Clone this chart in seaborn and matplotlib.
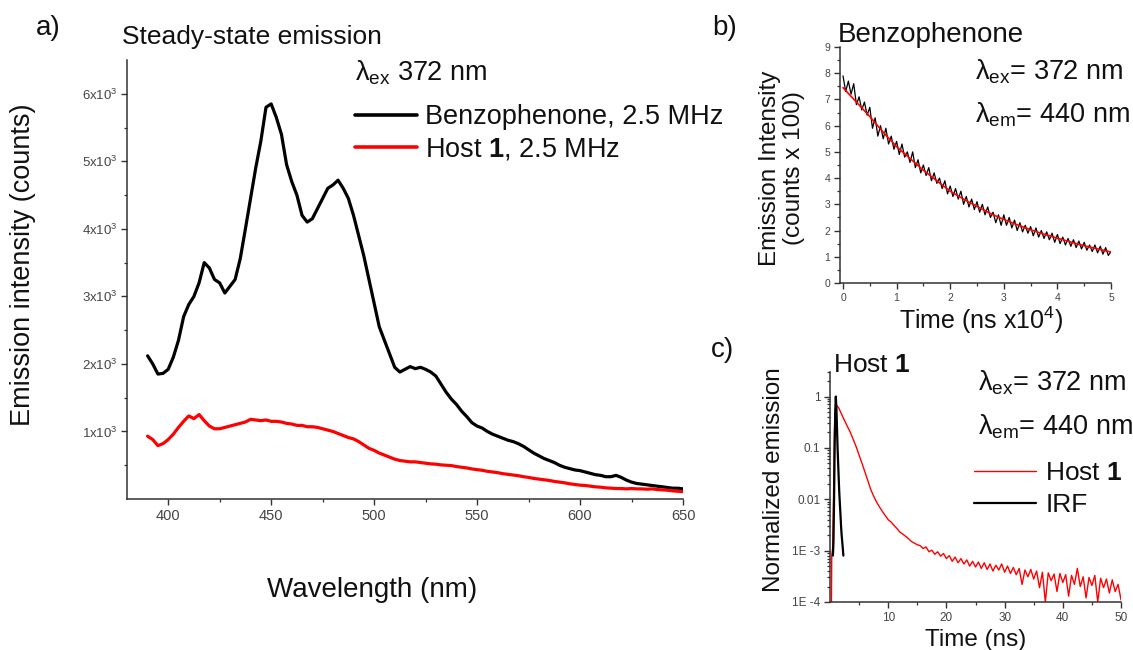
import numpy as np
import pandas as pd
import matplotlib
matplotlib.use("Agg")
import matplotlib.pyplot as plt
import seaborn as sns
from matplotlib.ticker import FixedLocator, MultipleLocator, NullFormatter, FixedFormatter, LogLocator

# ---------------- data: panel a (steady-state emission) ----------------
wavelength_nm = [390, 392.5, 395, 397.5, 400, 402.5, 405, 407.5, 410, 412.5, 415, 417.5, 420, 422.5, 425,
                 427.5, 430, 432.5, 435, 437.5, 440, 442.5, 445, 447.5, 450, 452.5, 455, 457.5, 460, 462.5,
                 465, 467.5, 470, 472.5, 475, 477.5, 480, 482.5, 485, 487.5, 490, 492.5, 495, 497.5, 500,
                 502.5, 505, 507.5, 510, 512.5, 515, 517.5, 520, 522.5, 525, 527.5, 530, 532.5, 535, 537.5,
                 540, 542.5, 545, 547.5, 550, 552.5, 555, 557.5, 560, 562.5, 565, 567.5, 570, 572.5, 575,
                 577.5, 580, 582.5, 585, 587.5, 590, 592.5, 595, 597.5, 600, 602.5, 605, 607.5, 610, 612.5,
                 615, 617.5, 620, 622.5, 625, 627.5, 630, 632.5, 635, 637.5, 640, 642.5, 645, 647.5, 650]
benzophenone_counts = [2120, 2000, 1850, 1860, 1920, 2100, 2350, 2700, 2880, 3000, 3200, 3500, 3420, 3250, 3200,
                       3050, 3150, 3250, 3560, 4000, 4450, 4900, 5300, 5800, 5850, 5650, 5400, 4950, 4700, 4500,
                       4200, 4100, 4150, 4300, 4450, 4600, 4650, 4720, 4600, 4450, 4200, 3900, 3600, 3250, 2900,
                       2550, 2350, 2150, 1950, 1880, 1920, 1960, 1930, 1950, 1920, 1880, 1820, 1700, 1580, 1480,
                       1400, 1300, 1220, 1130, 1080, 1050, 1000, 960, 930, 900, 870, 850, 820, 780, 730,
                       680, 640, 600, 570, 540, 500, 470, 450, 430, 420, 400, 380, 360, 350, 330,
                       330, 350, 320, 280, 250, 230, 220, 210, 200, 190, 180, 170, 160, 160, 150]
host1_counts = [930, 880, 790, 820, 880, 960, 1060, 1150, 1230, 1190, 1250, 1160, 1080, 1040, 1040,
                1060, 1080, 1100, 1120, 1140, 1180, 1170, 1160, 1170, 1150, 1150, 1140, 1120, 1110, 1090,
                1090, 1070, 1070, 1060, 1040, 1020, 1000, 970, 940, 910, 890, 850, 800, 750, 720,
                680, 650, 620, 590, 570, 560, 550, 550, 540, 530, 520, 515, 505, 500, 495,
                480, 470, 460, 445, 435, 425, 410, 400, 390, 375, 365, 355, 345, 330, 320,
                305, 295, 285, 275, 260, 250, 240, 225, 215, 205, 200, 190, 180, 175, 165,
                160, 155, 155, 150, 155, 150, 150, 145, 150, 140, 135, 130, 120, 115, 110]

# ---------------- data: panel b (benzophenone decay) ----------------
time_b_data = [0.00, 0.05, 0.10, 0.15, 0.20, 0.25, 0.30, 0.35, 0.40, 0.45, 0.50, 0.55, 0.60, 0.65, 0.70,
               0.75, 0.80, 0.85, 0.90, 0.95, 1.00, 1.05, 1.10, 1.15, 1.20, 1.25, 1.30, 1.35, 1.40, 1.45,
               1.50, 1.55, 1.60, 1.65, 1.70, 1.75, 1.80, 1.85, 1.90, 1.95, 2.00, 2.05, 2.10, 2.15, 2.20,
               2.25, 2.30, 2.35, 2.40, 2.45, 2.50, 2.55, 2.60, 2.65, 2.70, 2.75, 2.80, 2.85, 2.90, 2.95,
               3.00, 3.05, 3.10, 3.15, 3.20, 3.25, 3.30, 3.35, 3.40, 3.45, 3.50, 3.55, 3.60, 3.65, 3.70,
               3.75, 3.80, 3.85, 3.90, 3.95, 4.00, 4.05, 4.10, 4.15, 4.20, 4.25, 4.30, 4.35, 4.40, 4.45,
               4.50, 4.55, 4.60, 4.65, 4.70, 4.75, 4.80, 4.85, 4.90, 4.95, 5.00]
benz_decay = [7.9, 7.3, 7.7, 7.2, 7.6, 6.8, 7.1, 6.6, 6.9, 6.4, 6.7, 5.9, 6.3, 5.6, 6.0,
              5.5, 5.9, 5.3, 5.6, 5.1, 5.4, 4.9, 5.3, 4.8, 5.0, 4.6, 5.0, 4.4, 4.7, 4.2,
              4.5, 4.1, 4.4, 3.9, 4.2, 3.8, 4.0, 3.6, 3.9, 3.4, 3.7, 3.3, 3.6, 3.2, 3.5,
              3.0, 3.3, 2.9, 3.2, 2.8, 3.1, 2.7, 3.0, 2.6, 2.9, 2.5, 2.7, 2.3, 2.6, 2.2,
              2.6, 2.2, 2.5, 2.1, 2.4, 2.0, 2.3, 1.95, 2.2, 1.9, 2.15, 1.8, 2.1, 1.75, 2.0,
              1.7, 1.95, 1.65, 1.9, 1.55, 1.85, 1.5, 1.75, 1.45, 1.7, 1.4, 1.65, 1.35, 1.6, 1.3,
              1.55, 1.25, 1.45, 1.2, 1.45, 1.15, 1.4, 1.1, 1.35, 1.05, 1.2]
time_b_fit = [0.0, 0.25, 0.5, 0.75, 1.0, 1.25, 1.5, 1.75, 2.0, 2.25, 2.5, 2.75, 3.0, 3.25, 3.5,
              3.75, 4.0, 4.25, 4.5, 4.75, 5.0]
benz_fit = [7.45, 6.9, 6.35, 5.75, 5.2, 4.75, 4.3, 3.9, 3.5, 3.2, 2.92, 2.65, 2.42, 2.22, 2.03,
            1.86, 1.71, 1.56, 1.42, 1.3, 1.18]

# ---------------- data: panel c (Host 1 decay, IRF) ----------------
time_c_host = [0.25, 0.3, 0.45, 0.6, 0.75, 0.9, 1.1, 1.5, 2.0, 2.5, 3.0, 3.5, 4.0, 4.5, 5.0, 5.5, 6.0,
               6.5, 7.0, 7.5, 8.0, 8.5, 9.0, 9.5, 10.0, 10.5, 11.0, 11.5, 12.0, 12.5, 13.0, 13.5, 14.0,
               14.5, 15.0, 15.5, 16.0, 16.5, 17.0, 17.5, 18.0, 18.5, 19.0, 19.5, 20.0, 20.5, 21.0, 21.5,
               22.0, 22.5, 23.0, 23.5, 24.0, 24.5, 25.0, 25.5, 26.0, 26.5, 27.0, 27.5, 28.0, 28.5, 29.0,
               29.5, 30.0, 30.5, 31.0, 31.5, 32.0, 32.5, 33.0, 33.5, 34.0, 34.5, 35.0, 35.5, 36.0, 36.5,
               37.0, 37.5, 38.0, 38.5, 39.0, 39.5, 40.0, 40.5, 41.0, 41.5, 42.0, 42.5, 43.0, 43.5, 44.0,
               44.5, 45.0, 45.5, 46.0, 46.5, 47.0, 47.5, 48.0, 48.5, 49.0, 49.5, 50.0]
host1_norm = [1.0e-4, 8e-4, 1.1e-3, 0.01, 0.2, 0.55, 0.68, 0.6, 0.45, 0.34, 0.26, 0.2, 0.145, 0.105,
              0.072, 0.05, 0.034, 0.023, 0.0155, 0.0115, 0.0088, 0.0071, 0.0058, 0.0048, 0.0040, 0.0036,
              0.0031, 0.0027, 0.0023, 0.0021, 0.0019, 0.0017, 0.0015, 0.0014, 0.0013, 0.00125, 0.0011,
              0.00118, 0.00095, 0.00102, 0.00085, 0.00095, 0.00078, 0.00088, 0.0007, 0.0008, 0.00062,
              0.00075, 0.00058, 0.0007, 0.00055, 0.00066, 0.0005, 0.00062, 0.00048, 0.0006, 0.00045,
              0.00058, 0.00043, 0.00055, 0.0004, 0.00052, 0.00042, 0.00055, 0.00038, 0.0005, 0.00036,
              0.00047, 0.00034, 0.00045, 0.00022, 0.00042, 0.00031, 0.00043, 0.00028, 0.0004, 0.00019,
              0.00038, 0.0001, 0.00037, 0.00026, 0.00035, 0.00016, 0.00036, 0.00024, 0.00034, 0.00013,
              0.00033, 0.00022, 0.00045, 0.0002, 0.00031, 0.00012, 0.0003, 0.00021, 0.00033, 0.0001,
              0.00029, 0.00019, 0.00028, 0.00015, 0.00027, 0.00016, 0.00022, 0.00011]
time_c_irf = [0.5, 0.6, 0.7, 0.8, 0.9, 1.0, 1.1, 1.2, 1.3, 1.4, 1.5, 1.6, 1.7, 1.8, 1.9, 2.0, 2.1, 2.2, 2.3]
irf_norm = [8e-4, 1.5e-3, 0.01, 0.1, 0.5, 1.0, 0.6, 0.25, 0.1, 0.05, 0.025, 0.013, 0.008, 0.005,
            0.003, 0.002, 0.0015, 0.0011, 8e-4]

# ---------------- style ----------------
sns.set_theme(style="ticks")
plt.rcParams['font.family'] = ['Liberation Sans', 'DejaVu Sans']
plt.rcParams['mathtext.fontset'] = 'custom'
plt.rcParams['mathtext.rm'] = 'Liberation Sans'
plt.rcParams['mathtext.it'] = 'Liberation Sans:italic'
plt.rcParams['mathtext.bf'] = 'Liberation Sans:bold'
plt.rcParams['mathtext.sf'] = 'Liberation Sans'

W, H = 1133, 650
fig = plt.figure(figsize=(W / 100, H / 100), dpi=100, facecolor='white')


def ax_rect(left, right, top, bottom):
    return [left / W, 1 - bottom / H, (right - left) / W, (bottom - top) / H]


ax_a = fig.add_axes(ax_rect(127, 683, 60, 499))
ax_b = fig.add_axes(ax_rect(840, 1111, 47, 283))
ax_c = fig.add_axes(ax_rect(830, 1121, 372, 602))

SPINE = '#333333'
TICKLAB = '#444444'


def style_axes(ax, lab_size):
    sns.despine(ax=ax)
    for s in ('left', 'bottom'):
        ax.spines[s].set_color(SPINE)
        ax.spines[s].set_linewidth(1.1)
    ax.tick_params(which='major', direction='out', length=4, width=1.0, color=SPINE,
                   labelsize=lab_size, labelcolor=TICKLAB, pad=3)
    ax.tick_params(which='minor', direction='out', length=2.5, width=0.9, color=SPINE)
    ax.set_facecolor('white')


# ---------------- panel a ----------------
df_a = pd.DataFrame({'wl': wavelength_nm, 'benz': benzophenone_counts, 'host': host1_counts})
sns.lineplot(data=df_a, x='wl', y='benz', ax=ax_a, color='black', linewidth=2.3,
             label='Benzophenone, 2.5 MHz', estimator=None, sort=False)
sns.lineplot(data=df_a, x='wl', y='host', ax=ax_a, color='#ff0000', linewidth=2.3,
             label=r'Host $\mathbf{1}$, 2.5 MHz', estimator=None, sort=False)
ax_a.set_xlim(380, 650)
ax_a.set_ylim(0, 6500)
style_axes(ax_a, 10.5)
ax_a.xaxis.set_major_locator(FixedLocator([400, 450, 500, 550, 600, 650]))
ax_a.xaxis.set_minor_locator(FixedLocator([425, 475, 525, 575, 625]))
ax_a.yaxis.set_major_locator(FixedLocator([1000, 2000, 3000, 4000, 5000, 6000]))
ax_a.yaxis.set_major_formatter(FixedFormatter([r'%dx10$^3$' % k for k in range(1, 7)]))
ax_a.yaxis.set_minor_locator(FixedLocator([500, 1500, 2500, 3500, 4500, 5500]))
ax_a.tick_params(axis='y', labelsize=9.5)
ax_a.set_xlabel('Wavelength (nm)', fontsize=20, color='#111111')
ax_a.set_ylabel('Emission intensity (counts)', fontsize=19.5, color='#111111')
ax_a.xaxis.label.set_va('center')
ax_a.yaxis.label.set_va('center')
ax_a.xaxis.set_label_coords(0.44, -0.207)
ax_a.yaxis.set_label_coords(-0.187, 0.533)
leg_a = ax_a.legend(loc='upper left', bbox_to_anchor=(355 / W, 1 - 104 / H), bbox_transform=fig.transFigure,
                    frameon=False, fontsize=19.5, handlelength=2.3, handletextpad=0.28,
                    labelspacing=0.23, borderpad=0, borderaxespad=0)
for t in leg_a.get_texts():
    t.set_color('#111111')
for h in leg_a.get_lines():
    h.set_linewidth(2.6)

fig.text(355 / W, 1 - 73 / H, r'$\mathrm{\lambda}_{\mathrm{ex}}$ 372 nm', fontsize=19.5,
         ha='left', va='center', color='#111111')
fig.text(36 / W, 1 - 28 / H, 'a)', fontsize=20, ha='left', va='center', color='#111111')
fig.text(122 / W, 1 - 37 / H, 'Steady-state emission', fontsize=19, ha='left', va='center', color='#111111')

# ---------------- panel b ----------------
df_b = pd.DataFrame({'t': time_b_data, 'I': benz_decay})
df_bf = pd.DataFrame({'t': time_b_fit, 'I': benz_fit})
sns.lineplot(data=df_b, x='t', y='I', ax=ax_b, color='black', linewidth=0.9, estimator=None, sort=False)
sns.lineplot(data=df_bf, x='t', y='I', ax=ax_b, color='#ff0000', linewidth=1.2, estimator=None, sort=False)
ax_b.set_xlim(-0.056, 5.0)
ax_b.set_ylim(0, 9)
style_axes(ax_b, 7.5)
ax_b.xaxis.set_major_locator(MultipleLocator(1))
ax_b.xaxis.set_minor_locator(MultipleLocator(0.5))
ax_b.yaxis.set_major_locator(MultipleLocator(1))
ax_b.yaxis.set_minor_locator(MultipleLocator(0.5))
ax_b.set_xlabel(r'Time (ns x10$^4$)', fontsize=18, color='#111111')
ax_b.set_ylabel('Emission Intensity\n(counts x 100)', fontsize=17.5, color='#111111', linespacing=1.1)
ax_b.xaxis.label.set_va('center')
ax_b.yaxis.label.set_va('center')
ax_b.xaxis.set_label_coords(0.52, -0.16)
ax_b.yaxis.set_label_coords(-0.214, 0.487)
fig.text(712 / W, 1 - 28 / H, 'b)', fontsize=20, ha='left', va='center', color='#111111')
fig.text(838 / W, 1 - 35 / H, 'Benzophenone', fontsize=20, ha='left', va='center', color='#111111')
fig.text(975 / W, 1 - 72 / H, r'$\mathrm{\lambda}_{\mathrm{ex}}$= 372 nm', fontsize=19.5,
         ha='left', va='center', color='#111111')
fig.text(975 / W, 1 - 115 / H, r'$\mathrm{\lambda}_{\mathrm{em}}$= 440 nm', fontsize=19.5,
         ha='left', va='center', color='#111111')

# ---------------- panel c ----------------
df_c = pd.DataFrame({'t': time_c_host, 'I': host1_norm})
df_irf = pd.DataFrame({'t': time_c_irf, 'I': irf_norm})
sns.lineplot(data=df_c, x='t', y='I', ax=ax_c, color='#ff0000', linewidth=1.0,
             label=r'Host $\mathbf{1}$', estimator=None, sort=False)
sns.lineplot(data=df_irf, x='t', y='I', ax=ax_c, color='black', linewidth=1.6,
             label='IRF', estimator=None, sort=False)
ax_c.set_yscale('log')
ax_c.set_xlim(0, 50)
ax_c.set_ylim(1e-4, 3.0)
style_axes(ax_c, 8.5)
ax_c.xaxis.set_major_locator(FixedLocator([10, 20, 30, 40, 50]))
ax_c.xaxis.set_minor_locator(FixedLocator([5, 15, 25, 35, 45]))
ax_c.yaxis.set_major_locator(FixedLocator([1e-4, 1e-3, 1e-2, 1e-1, 1]))
ax_c.yaxis.set_major_formatter(FixedFormatter(['1E -4', '1E -3', '0.01', '0.1', '1']))
ax_c.yaxis.set_minor_locator(LogLocator(base=10, subs=[2, 3, 4, 5, 6, 7, 8, 9]))
ax_c.yaxis.set_minor_formatter(NullFormatter())
ax_c.tick_params(axis='y', which='minor', length=2)
ax_c.set_xlabel('Time (ns)', fontsize=17.5, color='#111111')
ax_c.set_ylabel('Normalized emission', fontsize=17.5, color='#111111')
ax_c.xaxis.label.set_va('center')
ax_c.yaxis.label.set_va('center')
ax_c.xaxis.set_label_coords(0.502, -0.165)
ax_c.yaxis.set_label_coords(-0.192, 0.53)
leg_c = ax_c.legend(loc='upper left', bbox_to_anchor=(974 / W, 1 - 461 / H), bbox_transform=fig.transFigure,
                    frameon=False, fontsize=19, handlelength=2.35, handletextpad=0.35,
                    labelspacing=0.3, borderpad=0, borderaxespad=0)
for t in leg_c.get_texts():
    t.set_color('#111111')
fig.text(711 / W, 1 - 350 / H, 'c)', fontsize=20, ha='left', va='center', color='#111111')
fig.text(833 / W, 1 - 365 / H, r'Host $\mathbf{1}$', fontsize=19, ha='left', va='center', color='#111111')
fig.text(978 / W, 1 - 383 / H, r'$\mathrm{\lambda}_{\mathrm{ex}}$= 372 nm', fontsize=19.5,
         ha='left', va='center', color='#111111')
fig.text(978 / W, 1 - 427 / H, r'$\mathrm{\lambda}_{\mathrm{em}}$= 440 nm', fontsize=19.5,
         ha='left', va='center', color='#111111')

fig.savefig('out.png', dpi=100, facecolor='white')
